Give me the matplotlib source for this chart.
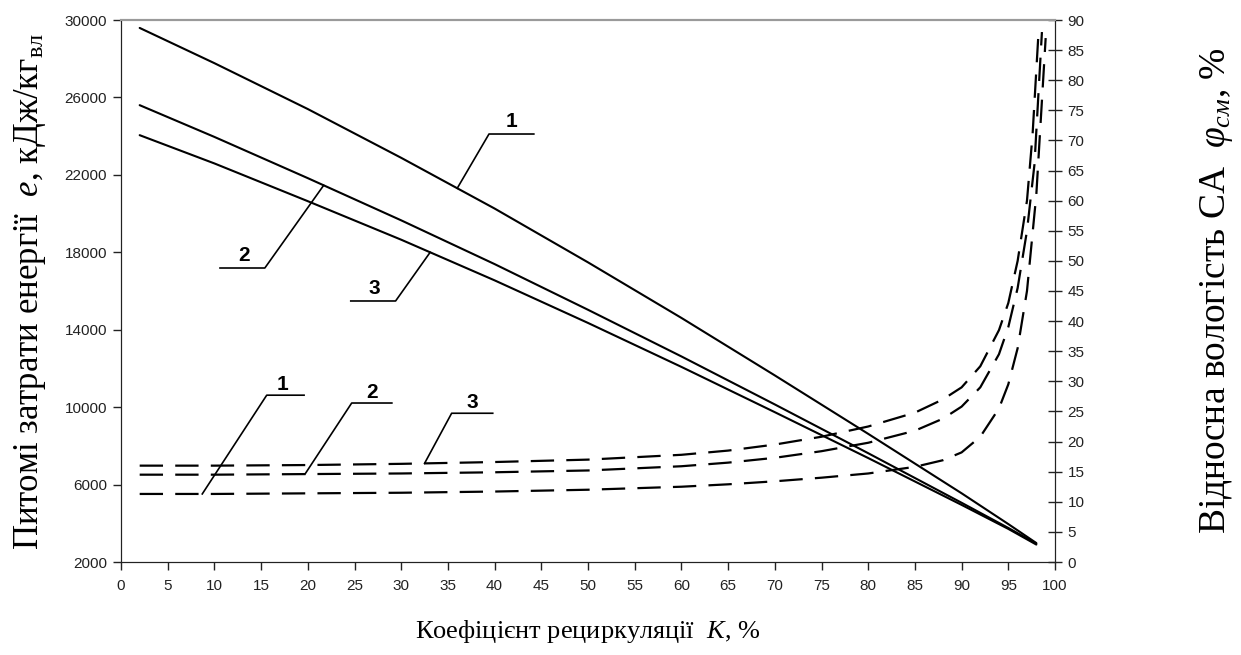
import numpy as np
import matplotlib
matplotlib.use("Agg")
import matplotlib.pyplot as plt

plt.rcParams['mathtext.fontset'] = 'custom'
plt.rcParams['mathtext.rm'] = 'Liberation Serif'
plt.rcParams['mathtext.it'] = 'Liberation Serif:italic'
plt.rcParams['mathtext.bf'] = 'Liberation Serif:bold'

# Specific energy consumption e (kJ/kg), solid curves 1..3
k_solid = [2, 10, 20, 30, 40, 50, 60, 70, 80, 90, 95, 98]
e_1 = [29590, 27770, 25400, 22880, 20260, 17480, 14610, 11640, 8620, 5550, 3960, 2980]
e_2 = [25600, 23960, 21830, 19650, 17390, 15030, 12620, 10140, 7620, 5060, 3760, 2950]
e_3 = [24050, 22590, 20640, 18650, 16550, 14350, 12080, 9740, 7370, 4950, 3710, 2900]

# Relative humidity of the mixture phi (%), dashed curves 1..3
k_phi_1 = [2, 10, 20, 30, 40, 50, 60, 65, 70, 75, 80, 85, 88, 90, 92, 94, 95, 96, 97, 98, 99.0]
phi_1 = [11.3, 11.3, 11.4, 11.5, 11.7, 12.0, 12.5, 12.9, 13.4, 14.0, 14.7, 15.8, 16.9, 18.2,
         20.8, 25.5, 29.5, 35.5, 45.0, 61.0, 87.0]
k_phi_2 = [2, 10, 20, 30, 40, 50, 60, 65, 70, 75, 80, 85, 88, 90, 92, 94, 95, 96, 97, 97.8, 98.6]
phi_2 = [14.5, 14.5, 14.6, 14.7, 14.9, 15.2, 15.9, 16.5, 17.3, 18.4, 19.8, 21.8, 23.8, 25.8,
         29.0, 34.5, 39.0, 45.5, 55.0, 66.0, 88.0]
k_phi_3 = [2, 10, 20, 30, 40, 50, 60, 65, 70, 75, 80, 85, 88, 90, 92, 94, 95, 96, 97, 97.6, 98.2]
phi_3 = [16.0, 16.0, 16.1, 16.3, 16.6, 17.0, 17.8, 18.5, 19.5, 20.8, 22.5, 24.8, 27.0, 29.0,
         32.5, 38.5, 43.0, 50.0, 60.0, 71.0, 87.0]

x_ticks = list(range(0, 101, 5))
e_ticks = list(range(2000, 30001, 4000))
phi_ticks = list(range(0, 91, 5))

fig = plt.figure(figsize=(12.41, 6.55), dpi=100)
ax = fig.add_axes([121 / 1241, 1 - 562 / 655, (1055 - 121) / 1241, (562 - 20) / 655])
ax2 = ax.twinx()

solid_kw = dict(color='black', lw=1.5, solid_capstyle='round')
for e in (e_1, e_2, e_3):
    ax.plot(k_solid, e, **solid_kw)

dash_kw = dict(color='black', lw=1.6, dashes=(10.5, 5.5))
for kk, ph in ((k_phi_1, phi_1), (k_phi_2, phi_2), (k_phi_3, phi_3)):
    ax2.plot(kk, ph, **dash_kw)

ax.set_xlim(0, 100)
ax.set_ylim(2000, 30000)
ax2.set_ylim(0, 90)
ax.set_xticks(x_ticks)
ax.set_yticks(e_ticks)
ax2.set_yticks(phi_ticks)

tick_font = dict(family='Liberation Sans', size=11)
ax.set_xticklabels([str(v) for v in x_ticks], **tick_font)
ax.set_yticklabels([str(v) for v in e_ticks], **tick_font)
ax2.set_yticklabels([str(v) for v in phi_ticks], **tick_font)

ax.tick_params(axis='x', direction='out', length=6, width=1, pad=6, colors='#222222')
ax.tick_params(axis='y', direction='out', length=6, width=1, pad=4, colors='#222222')
ax2.tick_params(axis='y', direction='inout', length=10, width=1, pad=4, colors='#222222')

for a in (ax, ax2):
    a.spines['top'].set_color('#9a9a9a')
    a.spines['top'].set_linewidth(1.5)
    a.spines['left'].set_color('#222222')
    a.spines['right'].set_color('#222222')
    a.spines['bottom'].set_color('#222222')

ax.set_xlabel(r'Коефіцієнт рециркуляції  $K$, %', labelpad=18,
              family='Liberation Serif', size=19)
ax.set_ylabel(r'Питомі затрати енергії  $e$, кДж/кг$_{\mathrm{вл}}$',
              family='Liberation Serif', size=25)
ax.yaxis.set_label_coords(-0.078, 0.5)
ax2.set_ylabel(r'Відносна вологість СА  $\varphi_{см}$, %', labelpad=82,
               family='Liberation Serif', size=27)

label_font = dict(family='Liberation Sans', size=15, weight='bold', ha='center', va='bottom')


def leader(axis, kx, ky, tag, elbow, end, text_pos):
    """Draw a numbered callout: underline + slanted line to the curve."""
    y_target = np.interp(elbow[2], kx, ky)
    axis.plot([elbow[2], elbow[0], end], [y_target, elbow[1], elbow[1]],
              color='black', lw=1.2)
    axis.text(text_pos[0], text_pos[1], tag, **label_font)


# solid-curve callouts: (elbow K, elbow value, target K), underline end K, text position
leader(ax, k_solid, e_1, '1', (39.4, 24110, 36.0), 44.2, (41.8, 24250))
leader(ax, k_solid, e_2, '2', (15.4, 17188, 21.7), 10.6, (13.2, 17330))
leader(ax, k_solid, e_3, '3', (29.4, 15484, 33.1), 24.6, (27.1, 15630))

# dashed-curve callouts
leader(ax2, k_phi_1, phi_1, '1', (15.6, 27.7, 8.7), 19.6, (17.3, 27.9))
leader(ax2, k_phi_2, phi_2, '2', (24.7, 26.4, 19.7), 29.0, (26.9, 26.6))
leader(ax2, k_phi_3, phi_3, '3', (35.4, 24.7, 32.5), 39.8, (37.6, 24.9))

fig.savefig('out.png', dpi=100)
